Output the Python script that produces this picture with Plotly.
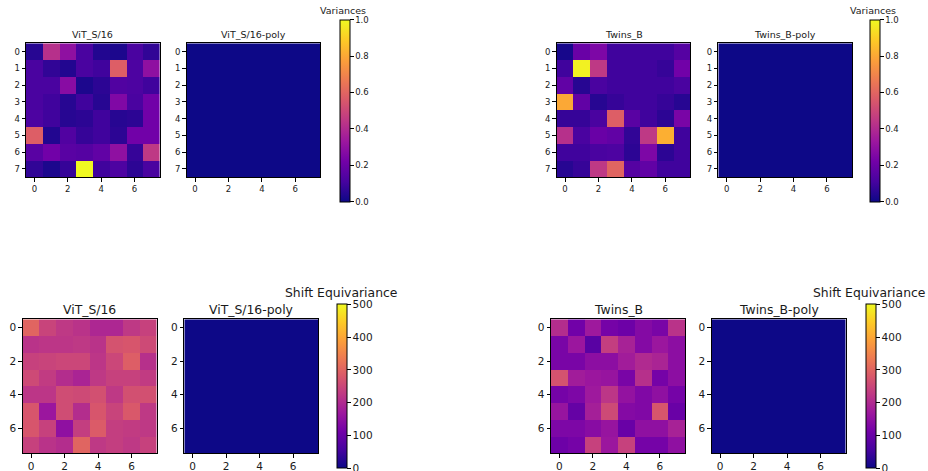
import plotly.graph_objects as go

W, H = 928, 471

cols = [0, 1, 2, 3, 4, 5, 6, 7]
rows = [0, 1, 2, 3, 4, 5, 6, 7]

# Variances (0-1)
vit_var = [
    [0.05, 0.42, 0.30, 0.12, 0.04, 0.03, 0.12, 0.07],
    [0.12, 0.07, 0.04, 0.12, 0.10, 0.58, 0.13, 0.30],
    [0.12, 0.12, 0.28, 0.03, 0.06, 0.14, 0.13, 0.10],
    [0.12, 0.10, 0.05, 0.10, 0.05, 0.26, 0.12, 0.22],
    [0.13, 0.10, 0.05, 0.06, 0.10, 0.05, 0.06, 0.22],
    [0.58, 0.04, 0.14, 0.08, 0.10, 0.06, 0.22, 0.22],
    [0.16, 0.22, 0.16, 0.15, 0.18, 0.30, 0.08, 0.45],
    [0.07, 0.03, 0.08, 1.00, 0.10, 0.13, 0.06, 0.12],
]
vit_poly_var = [
    [0.0, 0.0, 0.0, 0.0, 0.0, 0.0, 0.0, 0.0],
    [0.0, 0.0, 0.0, 0.0, 0.0, 0.0, 0.0, 0.0],
    [0.0, 0.0, 0.0, 0.0, 0.0, 0.0, 0.0, 0.0],
    [0.0, 0.0, 0.0, 0.0, 0.0, 0.0, 0.0, 0.0],
    [0.0, 0.0, 0.0, 0.0, 0.0, 0.0, 0.0, 0.0],
    [0.0, 0.0, 0.0, 0.0, 0.0, 0.0, 0.0, 0.0],
    [0.0, 0.0, 0.0, 0.0, 0.0, 0.0, 0.0, 0.0],
    [0.0, 0.0, 0.0, 0.0, 0.0, 0.0, 0.0, 0.0],
]
twins_var = [
    [0.02, 0.20, 0.25, 0.10, 0.10, 0.10, 0.10, 0.15],
    [0.10, 0.98, 0.45, 0.10, 0.10, 0.10, 0.08, 0.22],
    [0.18, 0.05, 0.12, 0.10, 0.10, 0.10, 0.10, 0.12],
    [0.80, 0.18, 0.05, 0.08, 0.10, 0.10, 0.08, 0.05],
    [0.08, 0.08, 0.12, 0.58, 0.16, 0.10, 0.06, 0.24],
    [0.42, 0.12, 0.20, 0.18, 0.07, 0.45, 0.82, 0.10],
    [0.10, 0.10, 0.12, 0.13, 0.06, 0.25, 0.06, 0.10],
    [0.05, 0.08, 0.45, 0.60, 0.15, 0.18, 0.10, 0.10],
]
twins_poly_var = [
    [0.0, 0.0, 0.0, 0.0, 0.0, 0.0, 0.0, 0.0],
    [0.0, 0.0, 0.0, 0.0, 0.0, 0.0, 0.0, 0.0],
    [0.0, 0.0, 0.0, 0.0, 0.0, 0.0, 0.0, 0.0],
    [0.0, 0.0, 0.0, 0.0, 0.0, 0.0, 0.0, 0.0],
    [0.0, 0.0, 0.0, 0.0, 0.0, 0.0, 0.0, 0.0],
    [0.0, 0.0, 0.0, 0.0, 0.0, 0.0, 0.0, 0.0],
    [0.0, 0.0, 0.0, 0.0, 0.0, 0.0, 0.0, 0.0],
    [0.0, 0.0, 0.0, 0.0, 0.0, 0.0, 0.0, 0.0],
]

# Shift equivariance (0-500)
vit_shift = [
    [300, 245, 225, 215, 195, 195, 225, 240],
    [215, 220, 220, 225, 215, 270, 275, 255],
    [240, 245, 250, 250, 220, 250, 290, 210],
    [255, 230, 205, 190, 225, 240, 240, 230],
    [220, 220, 260, 255, 265, 225, 265, 265],
    [275, 165, 260, 205, 275, 245, 280, 225],
    [275, 240, 150, 235, 285, 235, 230, 225],
    [240, 215, 205, 300, 225, 235, 225, 240],
]
vit_poly_shift = [
    [0, 0, 0, 0, 0, 0, 0, 0],
    [0, 0, 0, 0, 0, 0, 0, 0],
    [0, 0, 0, 0, 0, 0, 0, 0],
    [0, 0, 0, 0, 0, 0, 0, 0],
    [0, 0, 0, 0, 0, 0, 0, 0],
    [0, 0, 0, 0, 0, 0, 0, 0],
    [0, 0, 0, 0, 0, 0, 0, 0],
    [0, 0, 0, 0, 0, 0, 0, 0],
]
twins_shift = [
    [205, 110, 170, 115, 105, 135, 120, 215],
    [120, 165, 80, 235, 185, 135, 165, 145],
    [120, 120, 145, 145, 175, 200, 190, 145],
    [270, 175, 165, 160, 120, 210, 115, 145],
    [115, 125, 170, 220, 155, 130, 150, 115],
    [160, 95, 180, 255, 135, 130, 275, 100],
    [125, 125, 140, 160, 100, 150, 150, 185],
    [105, 115, 240, 165, 240, 115, 115, 150],
]
twins_poly_shift = [
    [0, 0, 0, 0, 0, 0, 0, 0],
    [0, 0, 0, 0, 0, 0, 0, 0],
    [0, 0, 0, 0, 0, 0, 0, 0],
    [0, 0, 0, 0, 0, 0, 0, 0],
    [0, 0, 0, 0, 0, 0, 0, 0],
    [0, 0, 0, 0, 0, 0, 0, 0],
    [0, 0, 0, 0, 0, 0, 0, 0],
    [0, 0, 0, 0, 0, 0, 0, 0],
]

var_ticks = [0.0, 0.2, 0.4, 0.6, 0.8, 1.0]
var_ticktext = ["0.0", "0.2", "0.4", "0.6", "0.8", "1.0"]
shift_ticks = [0, 100, 200, 300, 400, 500]
x_ticks = [0, 2, 4, 6]
y_ticks_top = [0, 1, 2, 3, 4, 5, 6, 7]
y_ticks_bottom = [0, 2, 4, 6]

FONT = "DejaVu Sans"
TXT = "#1a1a1a"
TOP_TICK, TOP_TITLE = 8.5, 9.5
BOT_TICK, BOT_TITLE = 10.5, 12.4

# pixel layouts: (x0, x1, y0, y1) from top-left
panels = [
    dict(z=vit_var, ca="coloraxis", box=(26.0, 159.6, 43.3, 177.3), title="ViT_S/16", top=True),
    dict(z=vit_poly_var, ca="coloraxis", box=(186.7, 320.3, 43.3, 177.3), title="ViT_S/16-poly", top=True),
    dict(z=twins_var, ca="coloraxis2", box=(556.7, 690.3, 43.3, 177.3), title="Twins_B", top=True),
    dict(z=twins_poly_var, ca="coloraxis2", box=(718.3, 852.0, 43.3, 177.3), title="Twins_B-poly", top=True),
    dict(z=vit_shift, ca="coloraxis3", box=(22.7, 156.7, 319.3, 453.3), title="ViT_S/16", top=False),
    dict(z=vit_poly_shift, ca="coloraxis3", box=(184.3, 318.3, 319.3, 453.3), title="ViT_S/16-poly", top=False),
    dict(z=twins_shift, ca="coloraxis4", box=(551.0, 685.0, 319.3, 453.3), title="Twins_B", top=False),
    dict(z=twins_poly_shift, ca="coloraxis4", box=(711.7, 845.7, 319.3, 453.3), title="Twins_B-poly", top=False),
]

fig = go.Figure()
annotations = []
layout_axes = {}
for i, p in enumerate(panels, start=1):
    xa = "x" if i == 1 else f"x{i}"
    ya = "y" if i == 1 else f"y{i}"
    fig.add_trace(go.Heatmap(z=p["z"], x=cols, y=rows, coloraxis=p["ca"],
                             xaxis=xa, yaxis=ya))
    x0, x1, y0, y1 = p["box"]
    fs = TOP_TICK if p["top"] else BOT_TICK
    tfs = TOP_TITLE if p["top"] else BOT_TITLE
    common = dict(showline=True, mirror=True, linecolor="black", linewidth=1,
                  ticks="outside", ticklen=3.5, tickwidth=0.8, tickcolor="black",
                  showgrid=False, zeroline=False,
                  tickfont=dict(family=FONT, size=fs, color=TXT))
    layout_axes["xaxis" if i == 1 else f"xaxis{i}"] = dict(
        domain=[x0 / W, x1 / W], range=[-0.5, 7.5], tickvals=x_ticks,
        anchor=ya, **common)
    layout_axes["yaxis" if i == 1 else f"yaxis{i}"] = dict(
        domain=[1 - y1 / H, 1 - y0 / H], range=[7.5, -0.5],
        tickvals=y_ticks_top if p["top"] else y_ticks_bottom,
        anchor=xa, **common)
    ty = 34.5 if p["top"] else 309.5
    annotations.append(dict(text=p["title"], x=(x0 + x1) / 2 / W, y=1 - ty / H,
                            xref="paper", yref="paper", xanchor="center", yanchor="middle",
                            showarrow=False, font=dict(family=FONT, size=tfs, color=TXT)))

# colorbar titles
for cx, cy, txt, fs in [(343, 10.5, "Variances", TOP_TITLE), (873, 10.5, "Variances", TOP_TITLE),
                        (341, 292, "Shift Equivariance", BOT_TITLE),
                        (869, 292, "Shift Equivariance", BOT_TITLE)]:
    annotations.append(dict(text=txt, x=cx / W, y=1 - cy / H, xref="paper", yref="paper",
                            xanchor="center", yanchor="middle", showarrow=False,
                            font=dict(family=FONT, size=fs, color=TXT)))


def cbar(x0, y0, y1, tv, tt, fs):
    return dict(x=x0 / W, xanchor="left", y=1 - y1 / H, yanchor="bottom",
                len=(y1 - y0), lenmode="pixels", thickness=10, thicknessmode="pixels",
                xpad=0, ypad=0, outlinecolor="black", outlinewidth=1,
                ticks="outside", ticklen=3.5, tickwidth=0.8, tickcolor="black",
                tickvals=tv, ticktext=tt, ticklabeloverflow="allow",
                tickfont=dict(family=FONT, size=fs, color=TXT))


fig.update_layout(
    width=W, height=H, margin=dict(l=0, r=0, t=0, b=0),
    paper_bgcolor="white", plot_bgcolor="white",
    coloraxis=dict(colorscale="Plasma", cmin=0, cmax=1,
                   colorbar=cbar(340, 19.3, 201.7, var_ticks, var_ticktext, TOP_TICK)),
    coloraxis2=dict(colorscale="Plasma", cmin=0, cmax=1,
                    colorbar=cbar(870, 19.3, 201.7, var_ticks, var_ticktext, TOP_TICK)),
    coloraxis3=dict(colorscale="Plasma", cmin=0, cmax=500,
                    colorbar=cbar(336.7, 304.3, 468.3, shift_ticks,
                                  [str(v) for v in shift_ticks], BOT_TICK)),
    coloraxis4=dict(colorscale="Plasma", cmin=0, cmax=500,
                    colorbar=cbar(865.5, 304.3, 468.3, shift_ticks,
                                  [str(v) for v in shift_ticks], BOT_TICK)),
    annotations=annotations,
    showlegend=False,
    **layout_axes,
)

fig.write_html("out.html", config={"displayModeBar": False},
               post_script="document.body.style.margin='0';document.body.style.overflow='hidden';")
